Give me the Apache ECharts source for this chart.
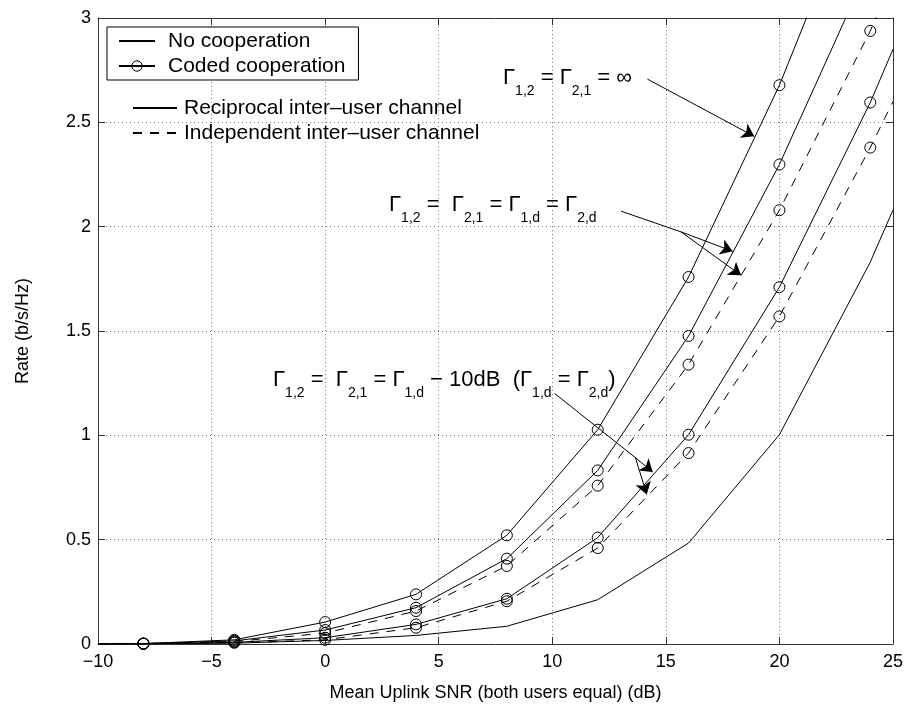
<!DOCTYPE html>
<html>
<head>
<meta charset="utf-8">
<title>Coded cooperation rate</title>
<script src="https://cdn.jsdelivr.net/npm/echarts@6/dist/echarts.min.js"></script>
<style>
  html, body { margin: 0; padding: 0; background: #fff; }
  #chart { width: 906px; height: 707px; }
</style>
</head>
<body>
<div id="chart"></div>
<script>
const FONT = "'Liberation Sans', Arial, Helvetica, sans-serif"

// mean uplink SNR (dB) - the last column is only where the curves leave the box
const snr = [-10, -8, -4, 0, 4, 8, 12, 16, 20, 24, 25]

// rates (b/s/Hz)
const noCoop = [0, 0.001, 0.004, 0.017, 0.041, 0.085, 0.212, 0.484, 1.003, 1.83, 2.08]
const coopInf = [0, 0.002, 0.02, 0.105, 0.238, 0.521, 1.027, 1.759, 2.678, 3.76, 4.05]
const coopEqRecip = [0, 0.002, 0.015, 0.067, 0.174, 0.409, 0.832, 1.476, 2.298, 3.26, 3.52]
const coopEqIndep = [0, 0.002, 0.012, 0.052, 0.158, 0.374, 0.759, 1.339, 2.079, 2.938, 3.19]
const coop10Recip = [0, 0.001, 0.008, 0.03, 0.094, 0.217, 0.51, 1.003, 1.71, 2.595, 2.85]
const coop10Indep = [0, 0.001, 0.006, 0.02, 0.078, 0.205, 0.46, 0.915, 1.57, 2.379, 2.6]

const xTicks = { min: -10, max: 25, step: 5 }
const yTicks = { min: 0, max: 3, step: 0.5 }

// annotation arrows, in data units: [from, to, arrowhead?]
const arrows = [
  [[14.19, 2.707], [18.89, 2.433], true],
  [[13.03, 2.074], [15.67, 1.975], false],
  [[15.67, 1.975], [17.94, 1.882], true],
  [[15.67, 1.975], [18.31, 1.767], true],
  [[10.1, 1.201], [13.66, 0.893], false],
  [[13.66, 0.893], [14.42, 0.824], true],
  [[13.66, 0.893], [14.16, 0.717], true],
]

const DASH = [9, 8]
const CLEAR = 'rgba(0,0,0,0)'

// markers only on the simulated points (-8 ... 24)
const toPoints = (ys, marked) => snr.map((x, i) => {
  const p = { value: [x, ys[i]] }
  if (!marked || i === 0 || i === snr.length - 1) p.symbol = 'none'
  return p
})

const curve = (name, ys, marked, dashed) => ({
  name,
  type: 'line',
  data: toPoints(ys, marked),
  symbol: marked ? 'circle' : 'none',
  symbolSize: 11,
  showSymbol: true,
  clip: true,
  color: '#000',
  lineStyle: { color: '#000', width: 1, type: dashed ? DASH : 'solid' },
  itemStyle: { color: CLEAR, borderColor: marked ? '#000' : CLEAR, borderWidth: marked ? 1 : 0 },
  emphasis: { disabled: true },
  z: 3,
})

const arrowLines = arrows.map(([a, b, head]) => [
  { coord: a, symbol: 'none' },
  { coord: b, symbol: head ? 'arrow' : 'none' },
])

const fmtMinus = v => String(v).replace('-', '\u2212')

// legend entries; the line icon draws a circle for every series, so hide it where there are no markers
const legendItem = (name, marked) => ({
  name,
  itemStyle: { color: CLEAR, borderColor: marked ? '#000' : CLEAR, borderWidth: marked ? 1 : 0 },
})

// Γ with subscripts as rich text (subscript sits at the bottom of a taller line)
const rich = {
  g: { fontSize: 22, lineHeight: 24, verticalAlign: 'top', fontFamily: FONT, fill: '#000' },
  s: { fontSize: 14, lineHeight: 31, verticalAlign: 'bottom', fontFamily: FONT, fill: '#000' },
}
const label = (left, top, text) => ({
  type: 'text',
  left,
  top,
  z: 10,
  style: { text, rich, fill: '#000', font: `22px ${FONT}` },
})

const chart = echarts.init(document.getElementById('chart'), null, { renderer: 'canvas' })

const axisCommon = {
  axisLine: { show: true, onZero: false, lineStyle: { color: '#333', width: 1 } },
  axisTick: { show: true, inside: true, length: 7, lineStyle: { color: '#333' } },
}

const legendText = { fontSize: 21, lineHeight: 22, color: '#000', fontFamily: FONT }

chart.setOption({
  animation: false,
  backgroundColor: '#fff',
  grid: { left: 98, right: 12, top: 18, bottom: 63, containLabel: false },
  xAxis: [
    {
      ...axisCommon,
      type: 'value',
      min: xTicks.min,
      max: xTicks.max,
      interval: xTicks.step,
      name: 'Mean Uplink SNR (both users equal) (dB)',
      nameLocation: 'middle',
      nameGap: 40,
      nameTextStyle: { fontSize: 18, color: '#000', fontFamily: FONT },
      axisLabel: { fontSize: 18, color: '#000', fontFamily: FONT, margin: 9, formatter: fmtMinus },
      splitLine: { show: true, lineStyle: { color: '#777', type: [1, 3], width: 1 } },
    },
    {
      ...axisCommon,
      type: 'value',
      position: 'top',
      min: xTicks.min,
      max: xTicks.max,
      interval: xTicks.step,
      axisLabel: { show: false },
      splitLine: { show: false },
    },
  ],
  yAxis: [
    {
      ...axisCommon,
      type: 'value',
      min: yTicks.min,
      max: yTicks.max,
      interval: yTicks.step,
      name: 'Rate (b/s/Hz)',
      nameLocation: 'middle',
      nameGap: 66,
      nameTextStyle: { fontSize: 18, color: '#000', fontFamily: FONT },
      axisLabel: { fontSize: 18, color: '#000', fontFamily: FONT, margin: 7 },
      splitLine: { show: true, lineStyle: { color: '#777', type: [1, 3], width: 1 } },
    },
    {
      ...axisCommon,
      type: 'value',
      position: 'right',
      min: yTicks.min,
      max: yTicks.max,
      interval: yTicks.step,
      axisLabel: { show: false },
      splitLine: { show: false },
    },
  ],
  legend: [
    {
      data: [legendItem('No cooperation', false), legendItem('Coded cooperation', true)],
      orient: 'vertical',
      left: 107,
      top: 27,
      padding: [3, 13, 3, 11],
      itemWidth: 36,
      itemHeight: 13,
      itemGap: 3,
      borderColor: '#000',
      borderWidth: 1,
      borderRadius: 0,
      backgroundColor: '#fff',
      selectedMode: false,
      textStyle: { ...legendText, padding: [0, 0, 0, 8] },
      z: 12,
    },
    {
      data: [
        legendItem('Reciprocal inter\u2013user channel', false),
        legendItem('Independent inter\u2013user channel', false),
      ],
      orient: 'vertical',
      left: 132,
      top: 97,
      padding: 0,
      itemWidth: 44,
      itemHeight: 13,
      itemGap: 3,
      selectedMode: false,
      textStyle: { ...legendText, padding: [0, 0, 0, 2] },
      z: 12,
    },
  ],
  graphic: [
    label(503, 67, '{g|\u0393}{s|1,2}{g| = \u0393}{s|2,1}{g| = \u221e}'),
    label(389, 194, '{g|\u0393}{s|1,2}{g| =  \u0393}{s|2,1}{g| = \u0393}{s|1,d}{g| = \u0393}{s|2,d}'),
    label(273, 369, '{g|\u0393}{s|1,2}{g| =  \u0393}{s|2,1}{g| = \u0393}{s|1,d}{g| \u2212 10dB  (\u0393}{s|1,d}{g| = \u0393}{s|2,d}{g|)}'),
  ],
  series: [
    {
      ...curve('No cooperation', noCoop, false, false),
      markLine: {
        silent: true,
        symbolSize: 12,
        label: { show: false },
        emphasis: { disabled: true },
        lineStyle: { color: '#000', width: 1, type: 'solid' },
        data: arrowLines,
      },
    },
    curve('Coded cooperation', coopInf, true, false),
    curve('Equal gains, reciprocal', coopEqRecip, true, false),
    curve('Equal gains, independent', coopEqIndep, true, true),
    curve('10 dB weaker, reciprocal', coop10Recip, true, false),
    curve('10 dB weaker, independent', coop10Indep, true, true),
    // legend-only entries for the channel line styles
    { ...curve('Reciprocal inter\u2013user channel', [], false, false), data: [] },
    { ...curve('Independent inter\u2013user channel', [], false, true), data: [] },
  ],
})
</script>
</body>
</html>
